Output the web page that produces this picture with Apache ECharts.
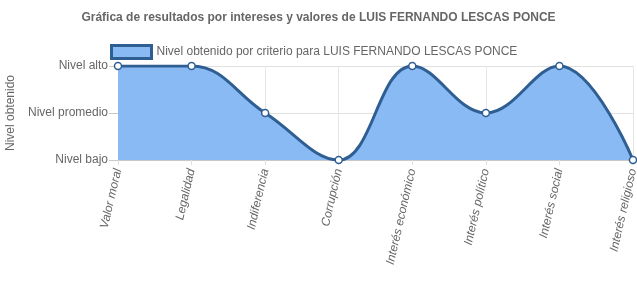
<!DOCTYPE html>
<html><head><meta charset="utf-8">
<script src="https://cdn.jsdelivr.net/npm/echarts@6/dist/echarts.min.js"></script>
<style>html,body{margin:0;padding:0;background:#fff}#c{width:637px;height:307px}</style>
</head><body><div id="c"></div>
<script>
const categories = ['Valor moral','Legalidad','Indiferencia','Corrupción','Interés económico','Interés político','Interés social','Interés religioso'];
const levelLabels = ['Nivel bajo','Nivel promedio','Nivel alto'];
const values = [3,3,2,1,3,2,3,1];
const seriesName = 'Nivel obtenido por criterio para LUIS FERNANDO LESCAS PONCE';
const chart = echarts.init(document.getElementById('c'));
const font = 'Helvetica, Arial, "Liberation Sans", sans-serif';
chart.setOption({
  animation:false,
  title:{text:'Gráfica de resultados por intereses y valores de LUIS FERNANDO LESCAS PONCE',left:'center',top:7,
    textStyle:{fontSize:12,fontWeight:'bold',color:'#666',fontFamily:font}},
  legend:{top:39,left:105,itemWidth:40,itemHeight:13,itemGap:6,
    textStyle:{fontSize:12,color:'#666',fontFamily:font},
    data:[{name:seriesName,icon:'rect',itemStyle:{color:'#8abaf4',borderColor:'#2e5e92',borderWidth:3}}]},
  grid:{left:118,right:4,top:66,bottom:147,containLabel:false,outerBoundsMode:'none'},
  xAxis:{type:'category',data:categories,boundaryGap:false,
    axisLine:{lineStyle:{color:'#c8c8c8'}},
    axisTick:{show:true,length:5,lineStyle:{color:'#e0e0e0'}},
    splitLine:{show:true,lineStyle:{color:'#e6e6e6'}},
    axisLabel:{rotate:77,fontSize:12,color:'#666',fontStyle:'italic',fontFamily:font,margin:9,interval:0}},
  yAxis:{type:'value',min:1,max:3,interval:1,name:'Nivel obtenido',nameLocation:'middle',nameGap:101,nameRotate:90,
    nameTextStyle:{fontSize:12,color:'#666',fontFamily:font},
    axisLine:{show:true,lineStyle:{color:'#c8c8c8'}},
    axisTick:{show:true,length:9,lineStyle:{color:'#c8c8c8'}},
    splitLine:{show:true,lineStyle:{color:'#e0e0e0'}},
    axisLabel:{fontSize:12,color:'#666',fontFamily:font,margin:10,formatter:v=>levelLabels[v-1]}},
  series:[{name:seriesName,type:'line',data:values,smooth:0.4,
    symbol:'circle',symbolSize:7,showAllSymbol:true,
    lineStyle:{color:'#2e5e92',width:3},
    itemStyle:{color:'#fff',borderColor:'#2e5e92',borderWidth:1.5},
    areaStyle:{color:'#8abaf4',opacity:1,origin:'start'}}]
});
</script></body></html>
